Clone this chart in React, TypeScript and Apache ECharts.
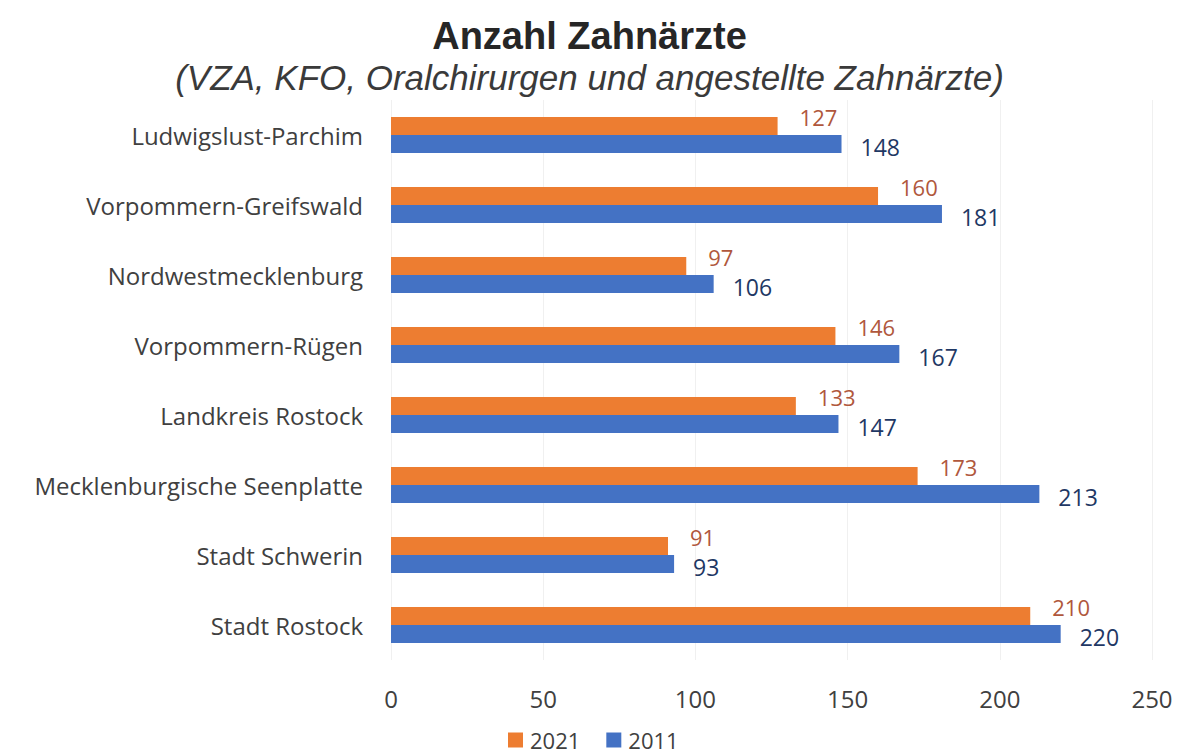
import React, { useEffect, useRef } from "react";
import * as echarts from "echarts";

const categories = [
  "Ludwigslust-Parchim",
  "Vorpommern-Greifswald",
  "Nordwestmecklenburg",
  "Vorpommern-Rügen",
  "Landkreis Rostock",
  "Mecklenburgische Seenplatte",
  "Stadt Schwerin",
  "Stadt Rostock",
];
const values2021 = [127, 160, 97, 146, 133, 173, 91, 210];
const values2011 = [148, 181, 106, 167, 147, 213, 93, 220];
const seriesNames = ["2021", "2011"];

const FONT = "'Open Sans', 'Noto Sans', sans-serif";

export default function App() {
  const ref = useRef<HTMLDivElement>(null);
  useEffect(() => {
    document.body.style.margin = "0";
    if (!ref.current) return;
    const chart = echarts.init(ref.current, null, { renderer: "svg" });
    chart.setOption({
      animation: false,
      backgroundColor: "#ffffff",
      title: [
        {
          text: "Anzahl Zahnärzte",
          left: "center",
          top: 12,
          textStyle: {
            fontFamily: "'Liberation Sans', Arial, sans-serif",
            fontWeight: "bold",
            fontSize: 38,
            color: "#262626",
          },
        },
        {
          text: "(VZA, KFO, Oralchirurgen und angestellte Zahnärzte)",
          left: "center",
          top: 55,
          textStyle: {
            fontFamily: "'Liberation Sans', Arial, sans-serif",
            fontStyle: "italic",
            fontWeight: "normal",
            fontSize: 35,
            color: "#3a3a3a",
          },
        },
      ],
      legend: {
        data: seriesNames,
        left: 503,
        top: 724,
        itemWidth: 15,
        itemHeight: 15,
        itemGap: 26,
        icon: "rect",
        textStyle: { fontFamily: FONT, fontSize: 22, color: "#404040", padding: [0, 0, 0, 2] },
      },
      grid: { left: 391, right: 27, top: 100, bottom: 95, containLabel: false },
      xAxis: {
        type: "value",
        min: 0,
        max: 250,
        interval: 50,
        axisLine: { show: false },
        axisTick: { show: false },
        splitLine: { show: true, lineStyle: { color: "#f0f0f0", width: 1 } },
        axisLabel: { fontFamily: FONT, fontSize: 24, color: "#404040", margin: 26 },
      },
      yAxis: {
        type: "category",
        data: categories,
        inverse: true,
        axisLine: { show: false },
        axisTick: { show: false },
        axisLabel: { fontFamily: FONT, fontSize: 24, color: "#404040", margin: 28 },
      },
      series: [
        {
          name: seriesNames[0],
          type: "bar",
          data: values2021,
          barWidth: 18,
          barGap: "0%",
          itemStyle: { color: "#ed7d31" },
          label: {
            show: true,
            position: "right",
            distance: 22,
            offset: [0, -9],
            fontFamily: FONT,
            fontSize: 22,
            color: "#b0573c",
          },
        },
        {
          name: seriesNames[1],
          type: "bar",
          data: values2011,
          barWidth: 18,
          barGap: "0%",
          itemStyle: { color: "#4472c4" },
          label: {
            show: true,
            position: "right",
            distance: 19,
            offset: [0, 3],
            fontFamily: FONT,
            fontSize: 23,
            color: "#1f3864",
          },
        },
      ],
    });
    return () => chart.dispose();
  }, []);
  return <div ref={ref} style={{ width: 1179, height: 755 }} />;
}
